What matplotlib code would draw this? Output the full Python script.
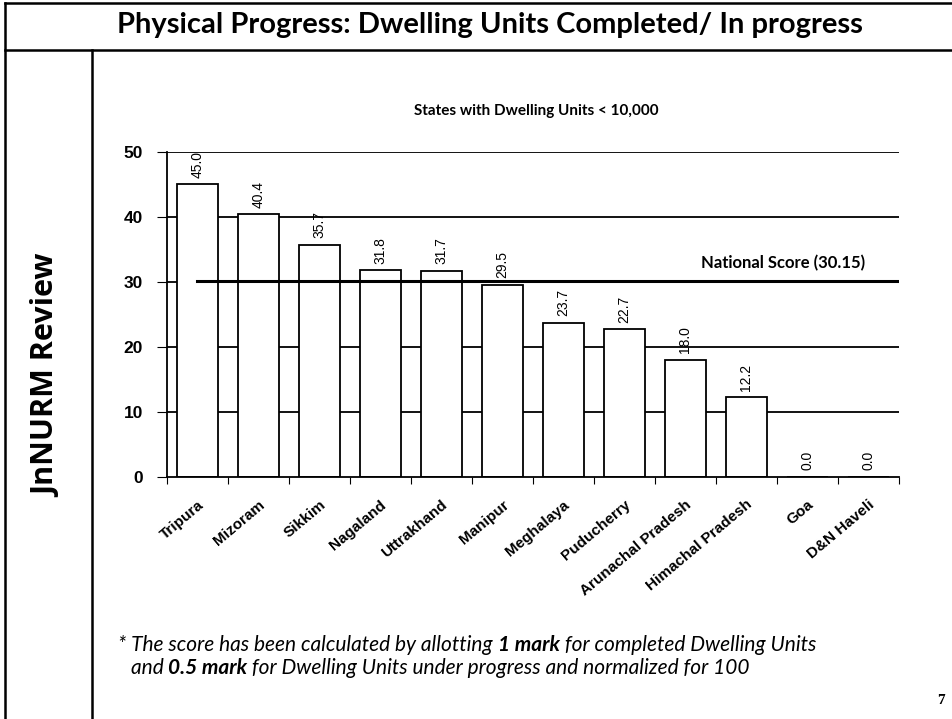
import matplotlib
matplotlib.use("Agg")
import matplotlib.pyplot as plt
from matplotlib.lines import Line2D

states = ["Tripura", "Mizoram", "Sikkim", "Nagaland", "Uttrakhand", "Manipur",
          "Meghalaya", "Puducherry", "Arunachal Pradesh", "Himachal Pradesh",
          "Goa", "D&N Haveli"]
scores = [45.0, 40.4, 35.7, 31.8, 31.7, 29.5, 23.7, 22.7, 18.0, 12.2, 0.0, 0.0]
national_score = 30.15
y_ticks = [0, 10, 20, 30, 40, 50]

fig = plt.figure(figsize=(9.53, 7.19), dpi=100)
ax = fig.add_axes([0.175, 0.337, 0.768, 0.452])

x = list(range(len(states)))
for t in y_ticks[1:]:
    ax.axhline(t, color="black", lw=1.3, zorder=0)
ax.bar(x, scores, width=0.67, color="white", edgecolor="black", lw=1.3, zorder=2)
for xi, v in zip(x, scores):
    ax.text(xi, v + 1.0, f"{v:.1f}", rotation=90, ha="center", va="bottom",
            fontsize=10, family="Liberation Sans", zorder=4)

ax.plot([0, len(states) - 0.5], [national_score, national_score], color="black", lw=2.2, zorder=3)
ax.text(10.95, national_score + 1.5, "National Score (30.15)", ha="right", va="bottom",
        fontsize=12, fontweight="bold", family="Lato")

ax.set_xlim(-0.5, len(states) - 0.5)
ax.set_ylim(0, 50)
ax.set_yticks(y_ticks)
ax.set_yticklabels([str(t) for t in y_ticks], fontsize=12.5, fontweight="bold", family="Liberation Sans")
ax.set_xticks([i + 0.5 for i in range(-1, len(states))])
ax.set_xticklabels([])
ax.set_xticks(x, minor=True)
ax.set_xticklabels(states, minor=True, rotation=40, ha="right", rotation_mode="anchor",
                   fontsize=11, fontweight="bold", family="Liberation Sans")
ax.tick_params(axis="x", which="minor", length=0, pad=15)
ax.tick_params(axis="x", which="major", length=5, direction="out")
ax.tick_params(axis="y", length=7, direction="out", pad=10)
for s in ["top", "right"]:
    ax.spines[s].set_visible(False)
ax.spines["left"].set_linewidth(1.3)
ax.spines["bottom"].set_linewidth(1.3)

# slide frame
for xs, ys in [([0.005, 1.0], [0.996, 0.996]),
               ([0.005, 1.0], [0.930, 0.930]),
               ([0.005, 0.005], [0.0, 0.996]),
               ([0.097, 0.097], [0.0, 0.930])]:
    fig.add_artist(Line2D(xs, ys, color="black", lw=1.8, transform=fig.transFigure))

fig.text(0.514, 0.965, "Physical Progress: Dwelling Units Completed/ In progress",
         ha="center", va="center", fontsize=21, fontweight="bold", family="Lato")
fig.text(0.563, 0.846, "States with Dwelling Units < 10,000", ha="center", va="center",
         fontsize=11, fontweight="bold", family="Lato")
fig.text(0.05, 0.478, "JnNURM Review", rotation=90, ha="center", va="center",
         fontsize=22, fontweight="bold", family="Open Sans")
fig.text(0.987, 0.026, "7", ha="center", va="center", fontsize=11, fontweight="bold",
         family="Liberation Serif")

# footnote with bold pieces
renderer = fig.canvas.get_renderer()
def rich_line(x0, y0, pieces):
    xc = x0
    for txt, bold in pieces:
        t = fig.text(xc, y0, txt, ha="left", va="center", fontsize=15, fontstyle="italic",
                     fontweight="bold" if bold else "normal", family="Lato")
        bb = t.get_window_extent(renderer=renderer)
        xc += bb.width / fig.bbox.width

rich_line(0.124, 0.103, [("* The score has been calculated by allotting ", False), ("1 mark", True),
                         (" for completed Dwelling Units", False)])
rich_line(0.137, 0.071, [("and ", False), ("0.5 mark", True),
                         (" for Dwelling Units under progress and normalized for 100", False)])

fig.savefig("out.png", dpi=100)
